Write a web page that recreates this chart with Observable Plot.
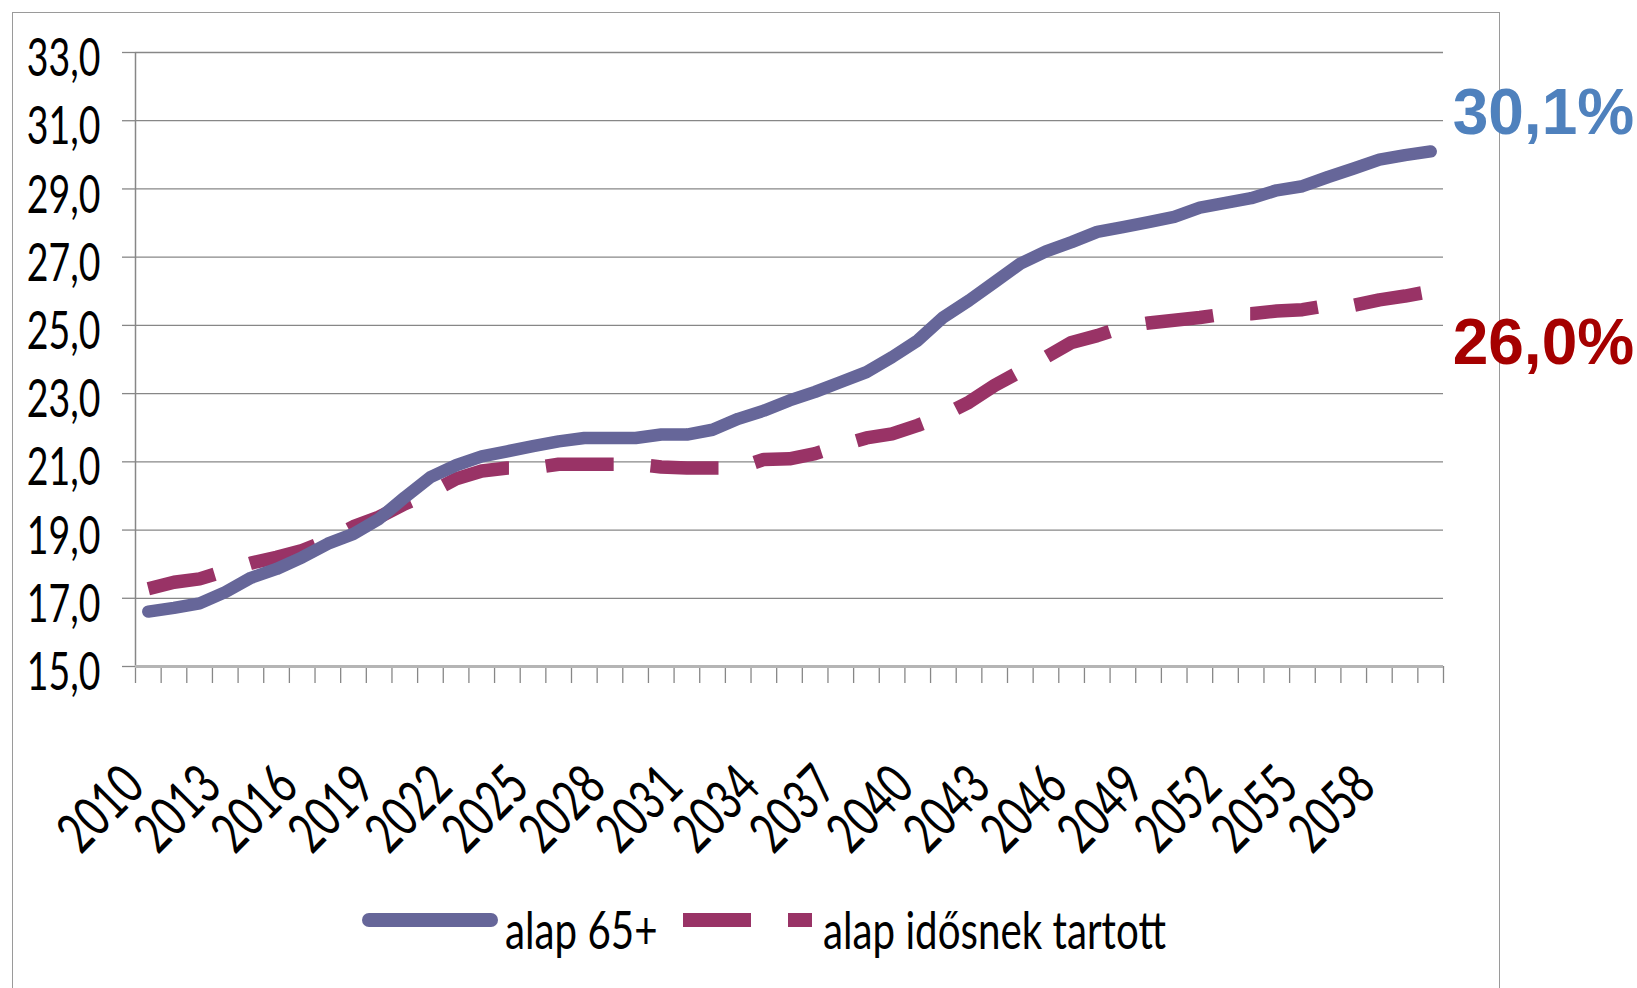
<!DOCTYPE html>
<html>
<head>
<meta charset="utf-8">
<script src="https://cdn.jsdelivr.net/npm/d3@7"></script>
<script src="https://cdn.jsdelivr.net/npm/@observablehq/plot@0.6"></script>
<style>
  html, body { margin: 0; padding: 0; background: #fff; }
  body { width: 1637px; height: 988px; overflow: hidden; position: relative; font-family: Lato, "Open Sans", sans-serif; }
  #frame { position: absolute; left: 12px; top: 12px; width: 1488px; height: 1000px; border: 1.5px solid #9a9a9a; box-sizing: border-box; pointer-events: none; }
  #chart { position: absolute; left: 0; top: 0; }
  #legend { position: absolute; left: 0; top: 880px; width: 1637px; height: 80px; }
  #legend .item { position: absolute; top: 0; height: 80px; display: flex; align-items: center; }
  #legend .txt { display: inline-block; font-size: 53px; color: #000; line-height: 1; white-space: nowrap; transform: scaleX(0.76); transform-origin: left center; position: relative; top: 8px; }
</style>
</head>
<body>
<div id="frame"></div>
<div id="chart"></div>
<div id="legend"></div>
<script>
// ---- data ----
const years = d3.range(2010, 2061);
const alap65 = [16.61, 16.72, 16.85, 17.18, 17.6, 17.86, 18.2, 18.6, 18.89, 19.33,
  19.96, 20.55, 20.9, 21.16, 21.31, 21.46, 21.6, 21.7, 21.7, 21.7,
  21.8, 21.8, 21.94, 22.26, 22.5, 22.8, 23.05, 23.34, 23.63, 24.07,
  24.56, 25.24, 25.73, 26.27, 26.81, 27.17, 27.44, 27.74, 27.88, 28.03,
  28.18, 28.45, 28.59, 28.73, 28.96, 29.08, 29.35, 29.6, 29.86, 29.99, 30.1];
const idosnek = [17.28, 17.47, 17.57, 17.8, 18.03, 18.2, 18.4, 18.7, 19.1, 19.38,
  19.77, 20.1, 20.5, 20.73, 20.82, 20.82, 20.93, 20.93, 20.93, 20.93,
  20.85, 20.82, 20.82, 20.82, 21.07, 21.09, 21.24, 21.48, 21.7, 21.82,
  22.07, 22.36, 22.75, 23.24, 23.65, 24.07, 24.5, 24.7, 24.95, 25.07,
  25.15, 25.23, 25.34, 25.34, 25.42, 25.46, 25.59, 25.59, 25.75, 25.86, 26.0];
const seriesNames = ["alap 65+", "alap idősnek tartott"];
const yTicks = [15, 17, 19, 21, 23, 25, 27, 29, 31, 33];
const xLabelYears = d3.range(2010, 2061, 3);
const endLabels = ["30,1%", "26,0%"];
const endValues = [30.1, 26.0];

// ---- styles ----
const colSolid = "#666699";
const colDash = "#993366";
const gridCol = "#878787";
const font = 'Lato, "Open Sans", sans-serif';
const fmt = d => d.toFixed(1).replace(".", ",");
const squeeze = 0.72;

const data1 = years.map((y, i) => ({year: y, v: alap65[i]}));
const data2 = years.map((y, i) => ({year: y, v: idosnek[i]}));
const tickBounds = d3.range(years[0] - 0.5, years[years.length - 1] + 1, 1);
const lastYear = years[years.length - 1];

const chart = Plot.plot({
  width: 1637,
  height: 880,
  marginTop: 52,
  marginLeft: 135,
  marginRight: 194,
  marginBottom: 214,
  style: {fontFamily: font, background: "transparent", overflow: "visible"},
  x: {type: "linear", domain: [years[0] - 0.5, lastYear + 0.5]},
  y: {domain: [15, 33]},
  marks: [
    Plot.gridY(yTicks, {stroke: gridCol, strokeOpacity: 1, strokeWidth: 1.3}),
    Plot.axisY(yTicks, {tickSize: 13, tickFormat: () => "", stroke: gridCol, strokeWidth: 1.3, label: null}),
    Plot.text(yTicks, {y: d => d, frameAnchor: "left", text: fmt, textAnchor: "end", lineAnchor: "middle", dx: -35, dy: 7, fontSize: 52, fill: "#000"}),
    Plot.axisX(tickBounds, {tickSize: 17, tickFormat: () => "", stroke: gridCol, strokeWidth: 1.3, label: null}),
    Plot.ruleX([years[0] - 0.5], {y1: 15, y2: 33, stroke: gridCol, strokeWidth: 1.5}),
    Plot.ruleY([15], {stroke: "#b5b5b5", strokeWidth: 3}),
    Plot.text(xLabelYears, {x: d => d, y: 15, text: d => String(d), rotate: -45, textAnchor: "end", lineAnchor: "middle", dx: -14, dy: 110, fontSize: 56, fill: "#000"}),
    Plot.line(data2, {x: "year", y: "v", stroke: colDash, strokeWidth: 13.5, strokeDasharray: "68,37", strokeLinecap: "butt", strokeLinejoin: "miter"}),
    Plot.line(data1, {x: "year", y: "v", stroke: colSolid, strokeWidth: 12.5, strokeLinecap: "round", strokeLinejoin: "round"}),
    Plot.text([{year: lastYear, v: endValues[0], label: endLabels[0]}], {x: "year", y: "v", text: "label", fill: "#4f81bd", dx: 22, dy: -38, textAnchor: "start", fontSize: 64, fontWeight: "bold", fontFamily: '"Liberation Sans", Arial, sans-serif'}),
    Plot.text([{year: lastYear, v: endValues[1], label: endLabels[1]}], {x: "year", y: "v", text: "label", fill: "#a50000", dx: 22, dy: 52, textAnchor: "start", fontSize: 64, fontWeight: "bold", fontFamily: '"Liberation Sans", Arial, sans-serif'})
  ]
});

// condense the axis label glyphs horizontally (narrow, tall look of the original)
chart.querySelectorAll("text").forEach(t => {
  const s = t.textContent || "";
  if (!s || s.endsWith("%")) return;
  const tr = t.getAttribute("transform");
  if (tr) {
    t.setAttribute("transform", tr + ` scale(${squeeze},1)`);
  } else {
    const x = +(t.getAttribute("x") || 0), y = +(t.getAttribute("y") || 0);
    t.setAttribute("x", 0); t.setAttribute("y", 0);
    t.setAttribute("transform", `translate(${x},${y}) scale(${squeeze},1)`);
  }
});
document.getElementById("chart").appendChild(chart);

// ---- legend ----
const legend = document.getElementById("legend");
function item(left, html) {
  const d = document.createElement("div");
  d.className = "item";
  d.style.left = left + "px";
  d.innerHTML = html;
  legend.appendChild(d);
}
item(362, `<div style="width:136px;height:14px;border-radius:7px;background:${colSolid}"></div>`);
item(505, `<span class="txt">${seriesNames[0]}</span>`);
item(683, `<div style="width:68px;height:14px;background:${colDash}"></div>`);
item(788, `<div style="width:24px;height:14px;background:${colDash}"></div>`);
item(823, `<span class="txt">${seriesNames[1]}</span>`);
</script>
</body>
</html>
